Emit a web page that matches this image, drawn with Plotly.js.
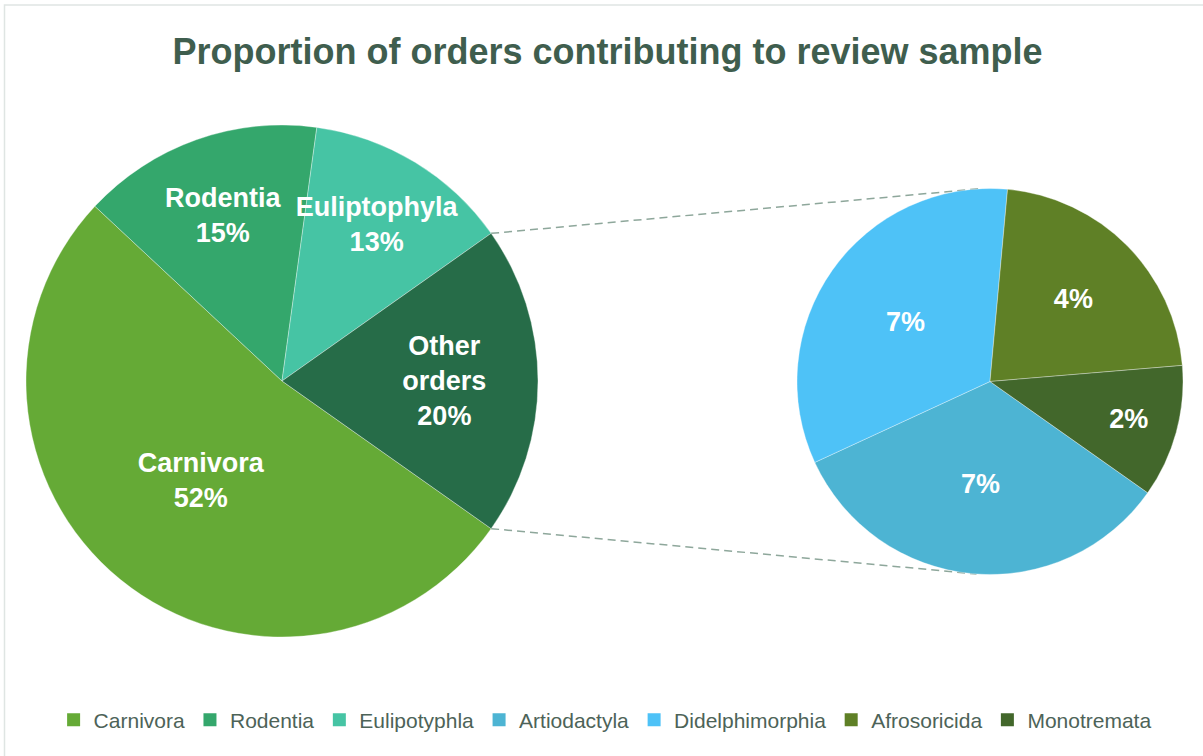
<!DOCTYPE html>
<html><head><meta charset="utf-8">
<script src="https://cdn.plot.ly/plotly-3.0.1.min.js"></script>
<style>html,body{margin:0;padding:0;background:#fff}#chart{width:1203px;height:756px}</style>
</head><body><div id="chart"></div>
<script>
// ---- data ----
const mainLabels = ['Carnivora', 'Rodentia', 'Eulipotyphla', 'Other orders'];
const mainSliceNames = ['Carnivora', 'Rodentia', 'Euliptophyla', 'Other<br>orders'];
const mainCounts = [24, 7, 6];          // Other orders = sum of subCounts
const subLabels = ['Artiodactyla', 'Didelphimorphia', 'Afrosoricida', 'Monotremata'];
const subCounts = [3, 3, 2, 1];
const legendNames = ['Carnivora', 'Rodentia', 'Eulipotyphla', 'Artiodactyla', 'Didelphimorphia', 'Afrosoricida', 'Monotremata'];

// ---- styles ----
const mainColors = ['#65aa36', '#34a76c', '#46c4a4', '#266c48'];
const subColors = ['#4db4d3', '#4ec2f7', '#5f8026', '#42672b'];
const legendColors = ['#65aa36', '#34a76c', '#46c4a4', '#4db4d3', '#4ec2f7', '#5f8026', '#42672b'];

const W = 1203, H = 756;
const mainGeo = {cx: 282, cy: 381, r: 256};
const subGeo = {cx: 990, cy: 381.5, r: 193};
const subLinkAngles = [93.5, -94];  // where connector lines meet the secondary pie

const sum = a => a.reduce((s, v) => s + v, 0);
const otherCount = sum(subCounts);
const allMain = mainCounts.concat([otherCount]);
const total = sum(allMain);
const pct = v => Math.round(v / total * 100) + '%';
const otherHalf = otherCount / total * 180;
const rot = 90 + otherHalf;

function domainOf(g) {
  return {x: [(g.cx - g.r) / W, (g.cx + g.r) / W], y: [1 - (g.cy + g.r) / H, 1 - (g.cy - g.r) / H]};
}

const textFont = {family: 'Liberation Sans, Arial, sans-serif', size: 27, color: '#ffffff', weight: 'bold'};
const sliceLine = {color: 'rgba(255,255,255,0.45)', width: 0.75};

const traces = [
  {
    type: 'pie', labels: mainLabels, values: allMain, sort: false, direction: 'clockwise', rotation: rot,
    domain: domainOf(mainGeo), text: mainSliceNames.map((n, i) => n + '<br>' + pct(allMain[i])),
    textinfo: 'text', textposition: 'inside', insidetextorientation: 'horizontal',
    textfont: textFont, insidetextfont: textFont,
    marker: {colors: mainColors, line: sliceLine},
    showlegend: false, hoverinfo: 'none'
  },
  {
    type: 'pie', labels: subLabels, values: subCounts, sort: false, direction: 'clockwise', rotation: rot,
    domain: domainOf(subGeo), text: subCounts.map(pct),
    textinfo: 'text', textposition: 'inside', insidetextorientation: 'horizontal',
    textfont: textFont, insidetextfont: textFont,
    marker: {colors: subColors, line: sliceLine},
    showlegend: false, hoverinfo: 'none'
  }
];
legendNames.forEach((n, i) => traces.push({
  type: 'scatter', mode: 'markers', x: [null], y: [null], name: n,
  marker: {symbol: 'square', size: 13, color: legendColors[i]}, hoverinfo: 'none'
}));

function pt(g, angDeg) {
  const a = angDeg * Math.PI / 180;
  return [(g.cx + g.r * Math.cos(a)) / W, 1 - (g.cy - g.r * Math.sin(a)) / H];
}
const mTop = pt(mainGeo, otherHalf), mBot = pt(mainGeo, -otherHalf);
const sTop = pt(subGeo, subLinkAngles[0]), sBot = pt(subGeo, subLinkAngles[1]);
const lineStyle = {color: '#8ea79b', width: 1.5, dash: '8px,5px'};

const layout = {
  width: W, height: H,
  margin: {l: 0, r: 0, t: 0, b: 0},
  paper_bgcolor: '#ffffff', plot_bgcolor: 'rgba(0,0,0,0)',
  title: {text: 'Proportion of orders contributing to review sample',
          font: {family: 'Liberation Sans, Arial, sans-serif', size: 36, color: '#3f5e4e', weight: 'bold'},
          x: 0.505, xanchor: 'center', y: 1 - 51 / H, yanchor: 'middle', yref: 'container'},
  xaxis: {visible: false}, yaxis: {visible: false},
  showlegend: true,
  legend: {orientation: 'h', x: 0.503, xanchor: 'center', y: 1 - 720 / H, yanchor: 'middle',
           font: {family: 'Liberation Sans, Arial, sans-serif', size: 21, color: '#4d6358'},
           itemwidth: 30, itemclick: false, itemdoubleclick: false},
  shapes: [
    {type: 'line', xref: 'paper', yref: 'paper', x0: mTop[0], y0: mTop[1], x1: sTop[0], y1: sTop[1], line: lineStyle, layer: 'below'},
    {type: 'line', xref: 'paper', yref: 'paper', x0: mBot[0], y0: mBot[1], x1: sBot[0], y1: sBot[1], line: lineStyle, layer: 'below'},
    {type: 'rect', xref: 'paper', yref: 'paper', x0: 4.5 / W, y0: -0.05, x1: 1.05, y1: 1 - 5 / H,
     line: {color: '#dfe5e3', width: 1.5}, fillcolor: 'rgba(0,0,0,0)', layer: 'below'}
  ],
  uniformtext: {mode: 'show', minsize: 27}
};

Plotly.newPlot('chart', traces, layout, {displayModeBar: false, staticPlot: true});
</script></body></html>
